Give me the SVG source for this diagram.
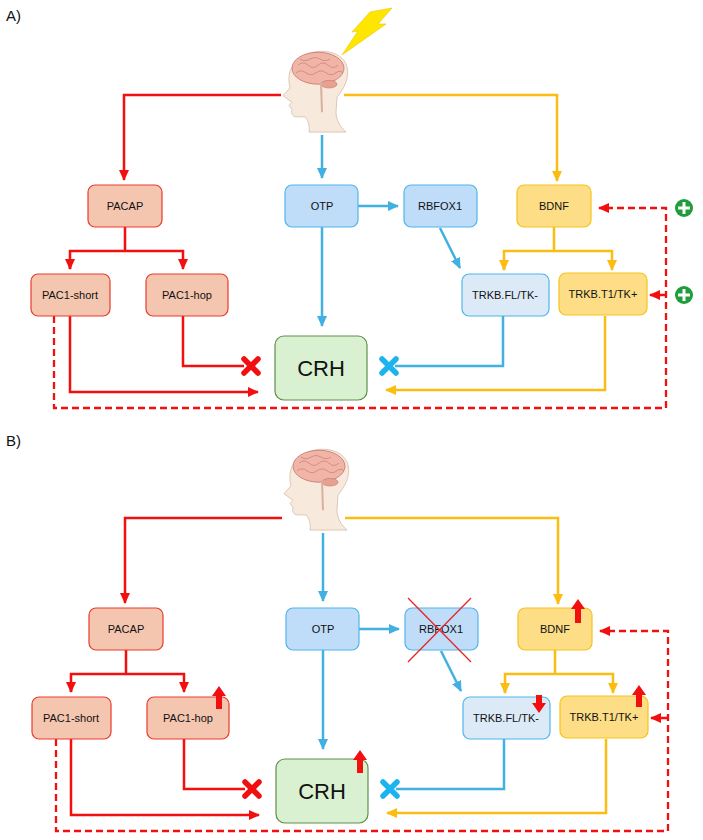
<svg xmlns="http://www.w3.org/2000/svg" width="703" height="840" viewBox="0 0 703 840">
<style>
text{font-family:"Liberation Sans",Arial,sans-serif;fill:#111;text-anchor:middle;dominant-baseline:central}
.lbl{font-size:11px}
.crh{font-size:22px}
.pan{font-size:15px;text-anchor:start}
.red{fill:#f5c6af;stroke:#ea3b2e;stroke-width:1.2}
.otp{fill:#bfdcf9;stroke:#4fb6e9;stroke-width:1.2}
.lb{fill:#dceaf8;stroke:#4fb6e9;stroke-width:1.2}
.yel{fill:#fddd86;stroke:#f5c31a;stroke-width:1.2}
.gr{fill:#d9f1d0;stroke:#5f8f4a;stroke-width:1.2}
.lr{fill:none;stroke:#f10f0f;stroke-width:2.5}
.lbu{fill:none;stroke:#43b0e2;stroke-width:2.5}
.ly{fill:none;stroke:#fbbd12;stroke-width:2.5}
.dash{fill:none;stroke:#f10f0f;stroke-width:2.3;stroke-dasharray:7,4}
.xr{stroke:#f10f0f;stroke-width:5.5;stroke-linecap:round}
.xb{stroke:#1cb4ef;stroke-width:5.5;stroke-linecap:round}
.up{fill:#f10f0f}
</style>
<defs>
<marker id="ar" markerUnits="userSpaceOnUse" markerWidth="12" markerHeight="12" refX="10" refY="6" orient="auto"><path d="M0,1 L11,6 L0,11 Z" fill="#f10f0f"/></marker>
<marker id="ab" markerUnits="userSpaceOnUse" markerWidth="12" markerHeight="12" refX="10" refY="6" orient="auto"><path d="M0,1 L11,6 L0,11 Z" fill="#43b0e2"/></marker>
<marker id="ay" markerUnits="userSpaceOnUse" markerWidth="12" markerHeight="12" refX="10" refY="6" orient="auto"><path d="M0,1 L11,6 L0,11 Z" fill="#fbbd12"/></marker>
<g id="head">
<g transform="translate(0,-1.7) scale(1,0.76)">
<path d="M300,80 C312,64 342,66 347,90 C350,106 343,120 337,130 L336,150 C336,160 340,169 346,176 L309,176 C310,168 308,160 305,156 L297,156 C292,156 291,151 292,146 L289,141 L292,137 L288,133 L283,128 L290,118 C287,101 290,88 300,80 Z" fill="#f8e9dd" stroke="#d8c0ae" stroke-width="1"/>
<ellipse cx="318" cy="92" rx="26" ry="21" fill="#f1b5a8" stroke="#c77c70" stroke-width="1"/>
<path d="M298,88 q5,-6 10,0 q5,6 10,0 q5,-6 10,0 q5,6 10,0 M296,98 q5,-5 10,0 q5,5 10,0 q5,-5 10,0 q5,5 10,0 q4,-4 7,0 M300,80 q5,4 10,0 q5,-4 10,0 q5,4 10,0" fill="none" stroke="#c77c70" stroke-width="0.8"/>
<ellipse cx="329" cy="113" rx="8" ry="5" fill="#e8a090" stroke="#c77c70" stroke-width="0.8"/>
<path d="M321,110 L322,150" stroke="#d8b0a0" stroke-width="2" fill="none"/>
</g>
</g>
</defs>

<text class="pan" x="6" y="15">A)</text>
<use href="#head"/>
<polygon points="342,55 358,31 352,32 370,12 392,8 378,24 386,24" fill="#ffe600" stroke="#e8c400" stroke-width="0.6"/>

<g id="connectors-A">
<path class="lr" d="M281,95 H124 V180" marker-end="url(#ar)"/>
<path class="ly" d="M344,95 H557 V181" marker-end="url(#ay)"/>
<path class="lbu" d="M322,135 V178" marker-end="url(#ab)"/>
<path class="lr" d="M125,227 V251 H70 V269 M125,251 H183 V269" marker-end="url(#ar)"/>
<path class="lr" d="M70,260 V269" marker-end="url(#ar)"/>
<path class="lbu" d="M358,206 H398" marker-end="url(#ab)"/>
<path class="lbu" d="M440,228 L460,268" marker-end="url(#ab)"/>
<path class="ly" d="M554,227 V251 H504 V270 M554,251 H612 V270" marker-end="url(#ay)"/>
<path class="ly" d="M504,260 V270" marker-end="url(#ay)"/>
<path class="lbu" d="M322,227 V326" marker-end="url(#ab)"/>
<path class="lr" d="M183,316 V366 H244"/>
<path class="lr" d="M70,316 V392 H258" marker-end="url(#ar)"/>
<path class="lbu" d="M503,316 V366 H395"/>
<path class="ly" d="M605,316 V390 H386" marker-end="url(#ay)"/>
<path class="dash" d="M54,316 V408 H666 V208 H599" marker-end="url(#ar)"/>
<path class="dash" d="M666,295 H650" marker-end="url(#ar)"/>
<path class="xr" d="M244,359 L258,373 M258,359 L244,373"/>
<path class="xb" d="M382,359 L396,373 M396,359 L382,373"/>
<circle cx="684" cy="208" r="9" fill="#1f9d3b"/><path d="M684,202 V214 M678,208 H690" stroke="#fff" stroke-width="3"/>
<circle cx="684" cy="295" r="9" fill="#1f9d3b"/><path d="M684,289 V301 M678,295 H690" stroke="#fff" stroke-width="3"/>
</g>
<g id="A-PACAP"><rect class="red" x="88" y="185" width="74" height="42" rx="7"/><text class="lbl" x="125" y="206">PACAP</text></g>
<g id="A-OTP"><rect class="otp" x="285" y="185" width="73" height="42" rx="7"/><text class="lbl" x="322" y="206">OTP</text></g>
<g id="A-RBFOX1"><rect class="otp" x="404" y="185" width="73" height="42" rx="7"/><text class="lbl" x="440" y="206">RBFOX1</text></g>
<g id="A-BDNF"><rect class="yel" x="517" y="185" width="74" height="42" rx="7"/><text class="lbl" x="554" y="206">BDNF</text></g>
<g id="A-PAC1short"><rect class="red" x="31" y="274" width="79" height="42" rx="7"/><text class="lbl" x="70" y="295">PAC1-short</text></g>
<g id="A-PAC1hop"><rect class="red" x="146" y="274" width="82" height="42" rx="7"/><text class="lbl" x="187" y="295">PAC1-hop</text></g>
<g id="A-TRKBFL"><rect class="lb" x="462" y="274" width="87" height="42" rx="7"/><text class="lbl" x="505" y="295">TRKB.FL/TK-</text></g>
<g id="A-TRKBT1"><rect class="yel" x="559" y="273" width="88" height="42" rx="7"/><text class="lbl" x="603" y="294">TRKB.T1/TK+</text></g>
<g id="A-CRH"><rect class="gr" x="275" y="336" width="92" height="64" rx="9"/><text class="crh" x="321" y="368">CRH</text></g>

<text class="pan" x="6" y="440">B)</text>
<use href="#head" x="1" y="398"/>

<g id="connectors-B" transform="translate(1,423)">
<path class="lr" d="M281,95 H124 V180" marker-end="url(#ar)"/>
<path class="ly" d="M344,95 H557 V181" marker-end="url(#ay)"/>
<path class="lbu" d="M322,110 V178" marker-end="url(#ab)"/>
<path class="lr" d="M125,227 V251 H70 V269 M125,251 H183 V269" marker-end="url(#ar)"/>
<path class="lr" d="M70,260 V269" marker-end="url(#ar)"/>
<path class="lbu" d="M358,206 H398" marker-end="url(#ab)"/>
<path class="lbu" d="M440,228 L460,268" marker-end="url(#ab)"/>
<path class="ly" d="M554,227 V251 H504 V270 M554,251 H612 V270" marker-end="url(#ay)"/>
<path class="ly" d="M504,260 V270" marker-end="url(#ay)"/>
<path class="lbu" d="M322,227 V326" marker-end="url(#ab)"/>
<path class="lr" d="M183,316 V366 H244"/>
<path class="lr" d="M70,316 V392 H258" marker-end="url(#ar)"/>
<path class="lbu" d="M503,316 V366 H395"/>
<path class="ly" d="M605,316 V390 H386" marker-end="url(#ay)"/>
<path class="dash" d="M55,316 V408 H667 V208 H599" marker-end="url(#ar)"/>
<path class="dash" d="M667,295 H650" marker-end="url(#ar)"/>
<path class="xr" d="M244,359 L258,373 M258,359 L244,373"/>
<path class="xb" d="M382,359 L396,373 M396,359 L382,373"/>
</g>
<g id="B-PACAP"><rect class="red" x="89" y="608" width="74" height="42" rx="7"/><text class="lbl" x="126" y="629">PACAP</text></g>
<g id="B-OTP"><rect class="otp" x="286" y="608" width="73" height="42" rx="7"/><text class="lbl" x="323" y="629">OTP</text></g>
<g id="B-RBFOX1"><rect class="otp" x="405" y="608" width="73" height="42" rx="7"/><text class="lbl" x="441" y="629">RBFOX1</text><path d="M408,598 L471,662 M471,598 L408,662" stroke="#e8262a" stroke-width="1.3"/></g>
<g id="B-BDNF"><rect class="yel" x="518" y="608" width="74" height="42" rx="7"/><text class="lbl" x="555" y="629">BDNF</text><path class="up" d="M575,623 V609 H571 L578,599 L585,609 H581 V623 Z"/></g>
<g id="B-PAC1short"><rect class="red" x="32" y="697" width="79" height="42" rx="7"/><text class="lbl" x="71" y="718">PAC1-short</text></g>
<g id="B-PAC1hop"><rect class="red" x="147" y="697" width="82" height="42" rx="7"/><text class="lbl" x="188" y="718">PAC1-hop</text><path class="up" d="M216,709 V696 H212 L219,686 L226,696 H222 V709 Z"/></g>
<g id="B-TRKBFL"><rect class="lb" x="463" y="697" width="87" height="42" rx="7"/><text class="lbl" x="506" y="718">TRKB.FL/TK-</text><path class="up" d="M536,695 V703 H532 L539,713 L546,703 H542 V695 Z"/></g>
<g id="B-TRKBT1"><rect class="yel" x="560" y="696" width="88" height="42" rx="7"/><text class="lbl" x="604" y="717">TRKB.T1/TK+</text><path class="up" d="M636,707 V695 H632 L639,685 L646,695 H642 V707 Z"/></g>
<g id="B-CRH"><rect class="gr" x="276" y="759" width="92" height="64" rx="9"/><text class="crh" x="322" y="791">CRH</text><path class="up" d="M357,773 V760 H353 L360,750 L367,760 H363 V773 Z"/></g>
</svg>
